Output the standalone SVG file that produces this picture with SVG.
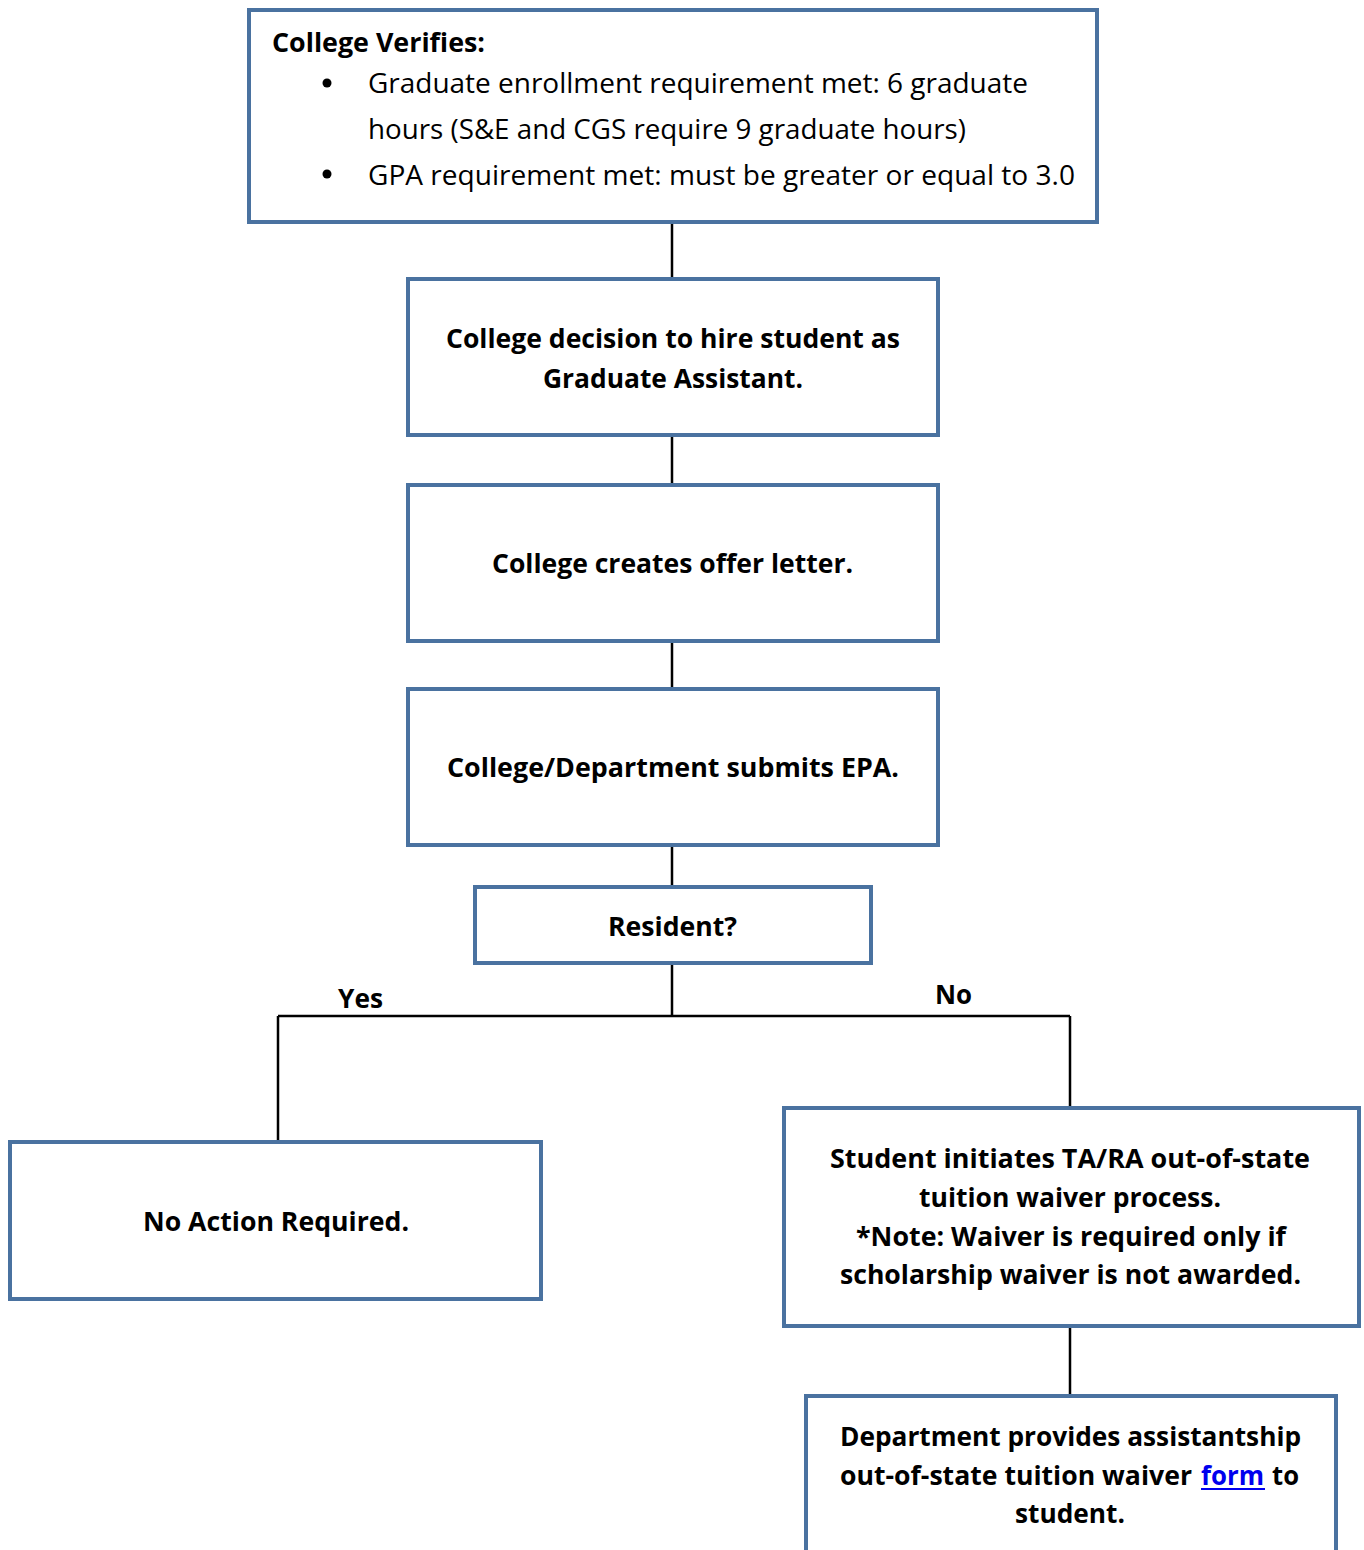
<svg xmlns="http://www.w3.org/2000/svg" width="1364" height="1550" viewBox="0 0 1364 1550">
<style>
.box{fill:#fff;stroke:#4A72A0;stroke-width:4}
.ln{stroke:#000;stroke-width:2.5;fill:none}
text{font-family:"Open Sans","Noto Sans",sans-serif;font-size:27px;fill:#000}
.b{font-weight:bold}
.c{text-anchor:middle}
.link{fill:#0000EE}
</style>
<rect width="1364" height="1550" fill="#fff"/>
<g id="connectors">
<path class="ln" d="M672 222V279M672 435V485M672 641V689M672 845V887M672 963V1016M278 1016H1070M278 1016V1142M1070 1016V1108M1070 1326V1396"/>
</g>
<g id="n1">
<rect class="box" x="249" y="10" width="848" height="212"/>
<text class="b" x="272" y="52" textLength="213" lengthAdjust="spacingAndGlyphs">College Verifies:</text>
<circle cx="327" cy="83" r="4.5"/>
<text x="368" y="93" textLength="660" lengthAdjust="spacingAndGlyphs">Graduate enrollment requirement met: 6 graduate</text>
<text x="368" y="139" textLength="598" lengthAdjust="spacingAndGlyphs">hours (S&amp;E and CGS require 9 graduate hours)</text>
<circle cx="327" cy="174" r="4.5"/>
<text x="368" y="185" textLength="707" lengthAdjust="spacingAndGlyphs">GPA requirement met: must be greater or equal to 3.0</text>
</g>
<g id="n2">
<rect class="box" x="408" y="279" width="530" height="156"/>
<text class="b" x="446" y="348" textLength="454" lengthAdjust="spacingAndGlyphs">College decision to hire student as</text>
<text class="b" x="543" y="388" textLength="260" lengthAdjust="spacingAndGlyphs">Graduate Assistant.</text>
</g>
<g id="n3">
<rect class="box" x="408" y="485" width="530" height="156"/>
<text class="b" x="492" y="573" textLength="361" lengthAdjust="spacingAndGlyphs">College creates offer letter.</text>
</g>
<g id="n4">
<rect class="box" x="408" y="689" width="530" height="156"/>
<text class="b" x="447" y="777" textLength="452" lengthAdjust="spacingAndGlyphs">College/Department submits EPA.</text>
</g>
<g id="n5">
<rect class="box" x="475" y="887" width="396" height="76"/>
<text class="b" x="608" y="936" textLength="129" lengthAdjust="spacingAndGlyphs">Resident?</text>
</g>
<g id="labels">
<text class="b" x="338" y="1008" textLength="45" lengthAdjust="spacingAndGlyphs">Yes</text>
<text class="b" x="935" y="1004" textLength="37" lengthAdjust="spacingAndGlyphs">No</text>
</g>
<g id="n6">
<rect class="box" x="10" y="1142" width="531" height="157"/>
<text class="b" x="143" y="1231" textLength="266" lengthAdjust="spacingAndGlyphs">No Action Required.</text>
</g>
<g id="n7">
<rect class="box" x="784" y="1108" width="575" height="218"/>
<text class="b" x="830" y="1168" textLength="480" lengthAdjust="spacingAndGlyphs">Student initiates TA/RA out-of-state</text>
<text class="b" x="919" y="1207" textLength="302" lengthAdjust="spacingAndGlyphs">tuition waiver process.</text>
<text class="b" x="856" y="1246" textLength="430" lengthAdjust="spacingAndGlyphs">*Note: Waiver is required only if</text>
<text class="b" x="840" y="1284" textLength="461" lengthAdjust="spacingAndGlyphs">scholarship waiver is not awarded.</text>
</g>
<g id="n8">
<rect class="box" x="806" y="1396" width="530" height="170"/>
<text class="b" x="840" y="1446" textLength="461" lengthAdjust="spacingAndGlyphs">Department provides assistantship</text>
<text class="b" x="840" y="1485" textLength="352" lengthAdjust="spacingAndGlyphs">out-of-state tuition waiver</text>
<text class="b link" x="1201" y="1485" textLength="63" lengthAdjust="spacingAndGlyphs">form</text>
<line x1="1201" y1="1489" x2="1265" y2="1489" stroke="#0000EE" stroke-width="2"/>
<text class="b" x="1272" y="1485" textLength="27" lengthAdjust="spacingAndGlyphs">to</text>
<text class="b" x="1015" y="1523" textLength="110" lengthAdjust="spacingAndGlyphs">student.</text>
</g>
</svg>
